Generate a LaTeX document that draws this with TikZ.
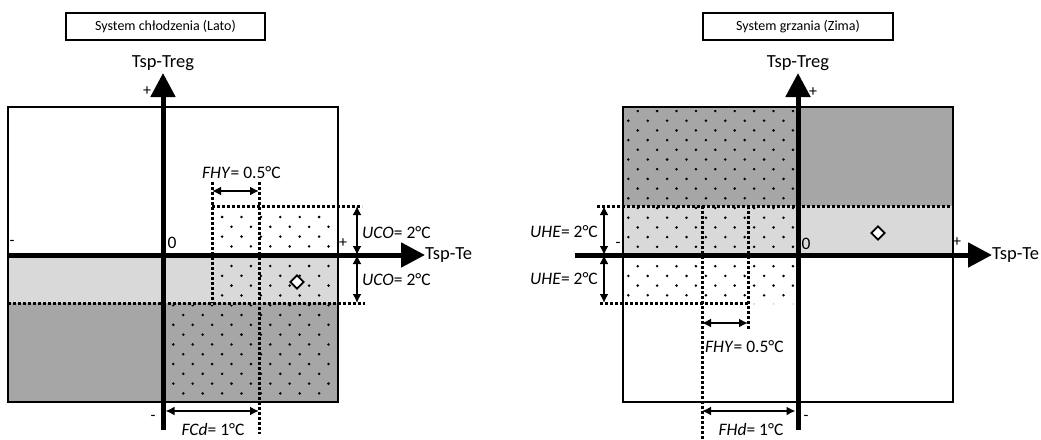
\documentclass[tikz,border=0pt]{standalone}
\usepackage{fontspec}
\setmainfont{Carlito}
\usetikzlibrary{arrows.meta, positioning, shapes.geometric}

\definecolor{lightband}{RGB}{217,217,217}
\definecolor{darkband}{RGB}{166,166,166}

\begin{document}
\begin{tikzpicture}[
      x=1pt, y=-1pt,
      titlebox/.style={
        draw, line width=2pt, minimum width=199pt, minimum height=27pt,
        inner sep=0pt, font=\fontsize{14}{16}\selectfont
      },
      axis/.style={line width=5pt, -{Triangle[length=24pt, width=24pt]}},
      dimarrow/.style={line width=2.4pt, {Latex[length=9pt, width=9pt]}-{Latex[length=9pt, width=9pt]}},
      dotline/.style={line width=3pt, dash pattern=on 3pt off 2pt},
      axislabel/.style={font=\fontsize{18.5}{20}\selectfont, inner sep=0pt},
      sign/.style={font=\fontsize{16}{18}\selectfont, inner sep=0pt},
      dimlabel/.style={font=\fontsize{17.5}{19}\selectfont, inner sep=0pt},
      marker/.style={draw, diamond, line width=1.8pt, fill=white, minimum size=14pt, inner sep=0pt}
    ]
    \useasboundingbox (0,0) rectangle (1041,439);

    % cooling (summer)
    \node[titlebox] (cooltitle) at (165.5,26.5) {System chłodzenia (Lato)};
    \node[axislabel] (coolyname) at (163,63) {Tsp-Treg};
    \fill[lightband] (8,255) rectangle (338,303);
    \fill[darkband] (8,303) rectangle (338,402);
    \begin{scope}
      \clip (215,209) rectangle (336,301) (166,305) rectangle (336,400);
      \foreach \j in {-12,...,9} {
        \pgfmathsetmacro\xs{isodd(\j) ? 173.3 : 183.3}
        \foreach \m in {0,...,9}
          \fill (\xs+\m*19.4, 315+\j*9.8) circle[radius=1.4pt];
      }
    \end{scope}
    \draw[line width=2pt] (8,107) rectangle (338,402);
    \draw[dotline] (8,303) -- (365,303);
    \draw[dotline] (212,206) -- (362,206);
    \draw[dotline] (212,182) -- (212,303);
    \draw[dotline] (259,182) -- (259,434);
    \coordinate (coolybot) at (163,430);
    \coordinate (coolytop) at (163,73);
    \coordinate (coolxleft) at (8,255);
    \coordinate (coolxright) at (425,255);
    \draw[axis] (coolybot) -- (coolytop);
    \draw[axis] (coolxleft) -- (coolxright);
    \node[axislabel, anchor=west] (coolxname) at (coolxright) {Tsp-Te};
    \node[sign] (coolyplus) at (147,91) {+};
    \node[sign] (coolxminus) at (12,243) {-};
    \node[dimlabel] (coolzero) at (172,243) {0};
    \node[sign] (coolxplus) at (343,243) {+};
    \node[sign] (coolyminus) at (153,418) {-};
    \coordinate (fhyleft) at (212,191);
    \coordinate (fhyright) at (259,191);
    \draw[dimarrow] (fhyleft) -- (fhyright);
    \node[dimlabel, anchor=west] (fhylabel) at (202,173) {\textit{FHY}= 0.5°C};
    \coordinate (ucotop) at (357,206);
    \coordinate (ucomid) at (357,255);
    \coordinate (ucobot) at (357,303);
    \draw[dimarrow] (ucomid) -- (ucotop);
    \draw[dimarrow] (ucomid) -- (ucobot);
    \node[dimlabel, anchor=west] (ucoup) at (362,233) {\textit{UCO}= 2°C};
    \node[dimlabel, anchor=west] (ucodown) at (362,280) {\textit{UCO}= 2°C};
    \coordinate (fcdleft) at (165.5,411);
    \coordinate (fcdright) at (259,411);
    \draw[dimarrow] (fcdleft) -- (fcdright);
    \node[dimlabel] (fcdlabel) at (213,429) {\textit{FCd}= 1°C};
    \node[marker] (coolpoint) at (297,282) {};

    % heating (winter)
    \node[titlebox, minimum width=190pt] (heattitle) at (798,26.5) {System grzania (Zima)};
    \node[axislabel] (heatyname) at (798,63) {Tsp-Treg};
    \fill[darkband] (623,107) rectangle (953,206);
    \fill[lightband] (623,206) rectangle (953,255);
    \begin{scope}
      \clip (626,110) rectangle (796,304) (626,206) rectangle (746,301);
      \foreach \j in {-10,...,11} {
        \pgfmathsetmacro\xs{isodd(\j) ? 637.7 : 628.3}
        \foreach \m in {0,...,9}
          \fill (\xs+\m*19.4, 198.3+\j*9.7) circle[radius=1.4pt];
      }
    \end{scope}
    \draw[line width=2pt] (623,107) rectangle (953,402);
    \draw[dotline] (597,206) -- (953,206);
    \draw[dotline] (600,303) -- (748,303);
    \draw[dotline] (702,206) -- (702,439);
    \draw[dotline] (748,206) -- (748,330);
    \coordinate (heatybot) at (798,430);
    \coordinate (heatytop) at (798,73);
    \coordinate (heatxleft) at (575,255);
    \coordinate (heatxright) at (992,255);
    \draw[axis] (heatybot) -- (heatytop);
    \draw[axis] (heatxleft) -- (heatxright);
    \node[axislabel, anchor=west] (heatxname) at (heatxright) {Tsp-Te};
    \node[sign] (heatyplus) at (813,92) {+};
    \node[sign] (heatxminus) at (618,245) {-};
    \node[dimlabel] (heatzero) at (806,244) {0};
    \node[sign] (heatxplus) at (957,242) {+};
    \node[sign] (heatyminus) at (806,418) {-};
    \coordinate (uhetop) at (604,206);
    \coordinate (uhemid) at (604,255);
    \coordinate (uhebot) at (604,303);
    \draw[dimarrow] (uhemid) -- (uhetop);
    \draw[dimarrow] (uhemid) -- (uhebot);
    \node[dimlabel, anchor=east] (uheup) at (598,232) {\textit{UHE}= 2°C};
    \node[dimlabel, anchor=east] (uhedown) at (598,279) {\textit{UHE}= 2°C};
    \coordinate (hfhyleft) at (702,323);
    \coordinate (hfhyright) at (748,323);
    \draw[dimarrow] (hfhyleft) -- (hfhyright);
    \node[dimlabel, anchor=west] (hfhylabel) at (705,347) {\textit{FHY}= 0.5°C};
    \coordinate (fhdleft) at (702,411);
    \coordinate (fhdright) at (795.5,411);
    \draw[dimarrow] (fhdleft) -- (fhdright);
    \node[dimlabel] (fhdlabel) at (751,429) {\textit{FHd}= 1°C};
    \node[marker] (heatpoint) at (878,233) {};
  \end{tikzpicture}
\end{document}
